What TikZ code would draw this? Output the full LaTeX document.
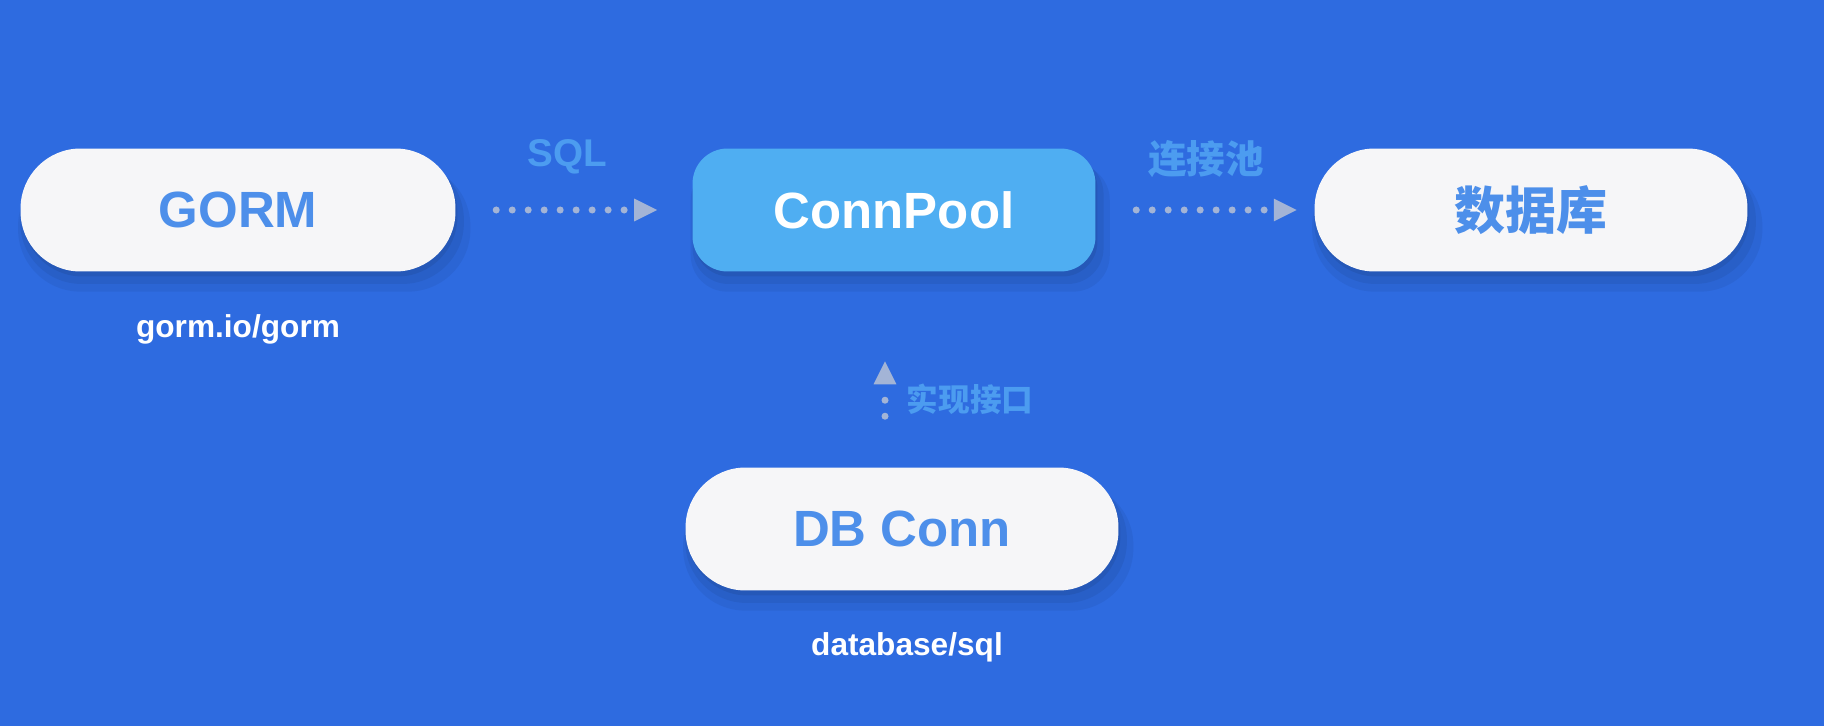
\documentclass[tikz,border=0pt]{standalone}
\usepackage{fontspec}
\setmainfont{Liberation Sans}
\newfontfamily\cjk{Noto Sans CJK SC}
\usetikzlibrary{
    arrows.meta,
    shadows,
    positioning
}
\definecolor{bgblue}{HTML}{2E6BE0}
\definecolor{pillfill}{HTML}{F6F6F8}
\definecolor{pilltext}{HTML}{4D8FEA}
\definecolor{poolfill}{HTML}{4FAEF2}
\definecolor{labelblue}{HTML}{4C9CF0}
\definecolor{dotgray}{HTML}{A3B4D6}

\begin{document}
\begin{tikzpicture}[x=0.02cm, y=-0.02cm,
    softshadow/.style={
        drop shadow={shadow xshift=0.12cm, shadow yshift=-0.34cm, shadow scale=1.04, opacity=0.05, fill=black},
        drop shadow={shadow xshift=0.08cm, shadow yshift=-0.22cm, shadow scale=1.02, opacity=0.06, fill=black},
        drop shadow={shadow xshift=0.04cm, shadow yshift=-0.1cm, opacity=0.07, fill=black}},
    pill/.style={fill=pillfill, text=pilltext, rounded corners=1.2cm,
        minimum height=2.46cm, font=\fontsize{29}{32}\selectfont\bfseries, softshadow},
    poolbox/.style={fill=poolfill, text=white, rounded corners=0.7cm,
        minimum width=8.06cm, minimum height=2.46cm, font=\fontsize{29}{32}\selectfont\bfseries, softshadow},
    pkg/.style={text=white, font=\fontsize{18}{20}\selectfont\bfseries},
    edgelabel/.style={text=labelblue, font=\fontsize{22}{24}\selectfont\bfseries},
    flow/.style={draw=dotgray, line width=4pt, line cap=round, dash pattern=on 0pt off 9.1pt,
        -{Triangle[length=13pt, width=13pt, fill=dotgray, line width=0pt]}}
]
    \fill[bgblue] (0, 0) rectangle (1824, 726);
    \useasboundingbox (0, 0) rectangle (1824, 726);

    \node[pill, minimum width=8.7cm] (gorm) at (238, 210) {GORM};
    \node[poolbox] (pool) at (894, 210) {ConnPool};
    \node[pill, minimum width=8.66cm] (db) at (1531, 210) {\cjk\bfseries 数据库};
    \node[pill, minimum width=8.66cm] (conn) at (902, 529) {DB Conn};

    \node[pkg] (gormpkg) at (238, 329) {gorm.io/gorm};
    \node[pkg] (sqlpkg) at (907, 647) {database/sql};

    \node[edgelabel] (sql) at (567, 157) {SQL};
    \node[edgelabel] (poollabel) at (1206, 159) {\cjk\bfseries 连接池};
    \node[edgelabel, font=\fontsize{18}{20}\selectfont] (impl) at (970, 399) {\cjk\bfseries 实现接口};

    \draw[flow, shorten <=23pt, shorten >=20pt] (gorm) -- (pool);
    \draw[flow, shorten <=23pt, shorten >=10pt] (pool) -- (db);
    \draw[flow, shorten <=29pt, shorten >=51pt] ([xshift=-0.34cm]conn.north) -- ([xshift=-0.18cm]pool.south);
\end{tikzpicture}
\end{document}
